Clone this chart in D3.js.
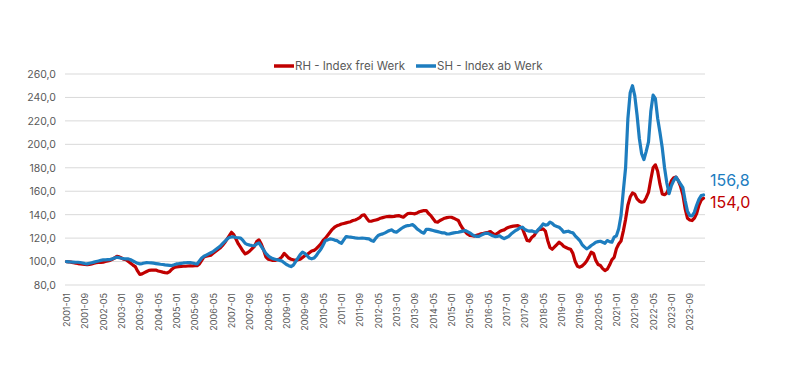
<!DOCTYPE html>
<html><head><meta charset="utf-8">
<script src="https://cdn.jsdelivr.net/npm/d3@7/dist/d3.min.js"></script>
<style>
html,body{margin:0;padding:0;background:#fff;}
svg{display:block;font-family:"Inter","Open Sans",sans-serif;}
</style></head>
<body>
<svg id="chart" width="805" height="386"></svg>
<script>
// Monthly index values, 2001-01 .. 2024-03
const startYear = 2001;
const rhValues = [
  // 2001
  100, 99.8, 99.5, 99, 98.7, 98.3, 98, 97.8, 97.5, 97.3, 97.5, 98,
  // 2002
  98.5, 99, 99.2, 99.3, 99.5, 100, 100.5, 101, 102, 103, 104.5, 104,
  // 2003
  103, 102, 101.5, 100, 98.5, 97, 95.7, 92, 89, 89.5, 90.5, 91.5,
  // 2004
  92.5, 92.7, 92.8, 92.7, 92, 91.5, 91, 90.6, 90.3, 91.5, 93.5, 95,
  // 2005
  95.5, 95.7, 95.8, 96, 96, 96.2, 96.3, 96.2, 96.5, 96.5, 98, 101,
  // 2006
  104, 104.5, 105, 105.5, 107, 108.5, 110, 111.5, 113.5, 116, 119, 122,
  // 2007
  125, 123, 119, 115, 112, 109, 106.5, 107.5, 109, 111, 113, 117,
  // 2008
  118.5, 115, 110, 104, 102, 101.5, 101, 101, 101.5, 102.3, 104, 107,
  // 2009
  105, 103, 102, 101.5, 101.2, 101.5, 102, 103.5, 105, 106, 107.5, 109,
  // 2010
  109.5, 111, 113, 115, 118, 120, 122.5, 125, 127.5, 129.3, 130.5, 131.2,
  // 2011
  132, 132.5, 133, 133.5, 134, 135, 135.5, 136.4, 137.5, 139.5, 139.8, 137,
  // 2012
  134.5, 134.4, 135, 135.5, 136, 137, 137.5, 138, 138.4, 138.5, 138.3, 138.5,
  // 2013
  139, 139.2, 138.5, 137.8, 139.5, 141, 141.2, 141, 140.7, 141.5, 142.5, 143,
  // 2014
  143.5, 143.5, 141, 139.2, 136.5, 134, 133.6, 135, 136, 137, 137.5, 137.8,
  // 2015
  137.8, 137, 136, 135, 131, 127.9, 125.5, 123.5, 122.2, 122, 121.7, 122.5,
  // 2016
  123, 123.6, 124, 124.5, 125, 125.6, 124, 122.8, 124, 125.5, 126.5, 127,
  // 2017
  128.5, 129.3, 129.8, 130.2, 130.5, 130.7, 129.5, 128, 123, 118, 117.5, 120.5,
  // 2018
  122, 125, 127, 127.5, 127.9, 126, 118, 112, 110.5, 112.5, 114.5, 116.5,
  // 2019
  115, 113, 112, 111, 110.5, 107, 100, 96, 95.2, 96.2, 98, 100.5,
  // 2020
  104, 108, 107, 101, 97.5, 96.6, 94, 92.3, 93.5, 97, 101.4, 103.5,
  // 2021
  111, 115, 117.5, 126, 136, 148, 155, 158.5, 157.5, 153.5, 151.5, 150.6,
  // 2022
  151, 154.5, 159, 170, 180, 182.5, 177, 166, 157.7, 157, 158.5, 163,
  // 2023
  169, 171.5, 172, 169, 164, 157, 145, 137, 135.5, 135, 137, 141,
  // 2024
  148, 152.5, 154
];
const shValues = [
  // 2001
  100, 99.8, 99.6, 99.5, 99.4, 99.4, 99.2, 98.8, 98.3, 98, 98.5, 99,
  // 2002
  99.5, 100, 100.5, 101, 101.4, 101.5, 101.6, 101.7, 102.3, 103, 103.7, 103.3,
  // 2003
  102.8, 102.5, 102.3, 102.3, 101.5, 100.5, 99.5, 98.5, 98, 98.3, 98.8, 99.1,
  // 2004
  99, 98.8, 98.6, 98.3, 98, 97.7, 97.5, 97.2, 97, 96.8, 96.6, 97.2,
  // 2005
  98, 98.2, 98.5, 98.8, 99, 99.2, 99.1, 98.8, 98.3, 98, 100.5, 103,
  // 2006
  104.5, 105.5, 106.5, 107.5, 108.5, 110, 111.5, 113, 115, 117, 119, 120.5,
  // 2007
  121, 121, 120.5, 120.3, 120, 118, 115.5, 114.5, 114, 113.7, 113.5, 115,
  // 2008
  116, 113, 110, 107, 105, 103.5, 102.5, 102, 101.5, 101, 100.5, 99,
  // 2009
  97.5, 96.5, 95.7, 97, 100, 103, 106, 108, 107, 105, 103, 102.3,
  // 2010
  103, 105, 108, 110.5, 114, 117.9, 118.5, 119.3, 119, 118.3, 117.9, 116.5,
  // 2011
  115.6, 118.5, 121.3, 121, 120.8, 120.5, 120.2, 120, 119.9, 120, 119.9, 119.6,
  // 2012
  119.3, 118, 117.3, 120, 122.2, 123, 123.6, 124.5, 125.6, 126.5, 127, 125.5,
  // 2013
  125, 126.5, 128, 129.3, 130.2, 130.7, 131, 131.5, 130, 127.9, 126.5, 125,
  // 2014
  124.2, 127.5, 127.5, 127, 126.5, 126, 125.5, 125, 124.5, 124.5, 123.5, 123.5,
  // 2015
  124, 124.5, 124.8, 125, 125.5, 126, 126.5, 125.5, 124.5, 123, 122, 121.5,
  // 2016
  121.5, 122.5, 123.5, 124.2, 124, 123, 122, 121.3, 121.5, 122, 120.5, 119.5,
  // 2017
  120.5, 121.5, 123.5, 125, 126.5, 127.5, 129, 129.3, 127.5, 126.5, 125.9, 126.2,
  // 2018
  125.5, 125, 127.5, 129.5, 132.1, 131, 131.5, 133.6, 132.5, 130.7, 130, 129.3,
  // 2019
  127.5, 125, 125.5, 125.9, 125, 124.5, 122, 120, 117.9, 114.5, 112.5, 110.8,
  // 2020
  112, 113.7, 115, 116.5, 117, 117.3, 116.5, 115.6, 117.9, 117, 116.5, 120.8,
  // 2021
  122, 128, 139, 160, 180, 222, 244, 250, 241.6, 225, 205, 192,
  // 2022
  187, 194, 202, 228, 242, 239, 222, 210, 197, 180, 167, 158,
  // 2023
  164.8, 169, 172, 169, 166, 163, 152, 143, 139.2, 139, 142, 148,
  // 2024
  153, 156.3, 156.8
];
const seriesNames = ["RH - Index frei Werk", "SH - Index ab Werk"];
const seriesColors = ["#C00000", "#1D7DBF"];
const endLabels = ["154,0", "156,8"];
const yTicks = [80, 100, 120, 140, 160, 180, 200, 220, 240, 260];

const months = rhValues.map((d, i) => {
  const y = startYear + Math.floor(i / 12);
  const m = (i % 12) + 1;
  return y + "-" + String(m).padStart(2, "0");
});
const tickMonths = months.filter((d, i) => i % 8 === 0);

const svg = d3.select("#chart");
const x = d3.scalePoint().domain(months).range([66.5, 703.5]);
const y = d3.scaleLinear().domain([80, 260]).range([285, 74]);
const fmt = v => d3.format(".1f")(v).replace(".", ",");

// gridlines
svg.append("g").selectAll("line").data(yTicks).join("line")
  .attr("x1", 65).attr("x2", 705)
  .attr("y1", d => y(d)).attr("y2", d => y(d))
  .attr("stroke", "#d9d9d9").attr("stroke-width", 1);

// y axis
const yAxis = svg.append("g").attr("transform", "translate(56,0)")
  .call(d3.axisLeft(y).tickValues(yTicks).tickSize(0).tickPadding(0).tickFormat(fmt));
yAxis.select(".domain").remove();
yAxis.selectAll("text").attr("fill", "#595959").attr("font-size", "10.5px")
  .attr("font-family", "Inter, sans-serif");

// x axis
const xAxis = svg.append("g").attr("transform", "translate(0,290)")
  .call(d3.axisBottom(x).tickValues(tickMonths).tickSize(0).tickPadding(0));
xAxis.select(".domain").remove();
xAxis.selectAll("text")
  .attr("fill", "#595959").attr("font-size", "9px").attr("font-family", "Inter, sans-serif")
  .attr("transform", "rotate(-90)")
  .attr("text-anchor", "end").attr("x", -3).attr("y", 0).attr("dy", "0.35em");

// lines
const line = d3.line().x((d, i) => x(months[i])).y(d => y(d)).curve(d3.curveLinear);
[rhValues, shValues].forEach((vals, k) => {
  svg.append("path").datum(vals)
    .attr("fill", "none").attr("stroke", seriesColors[k])
    .attr("stroke-width", 3.2).attr("stroke-linejoin", "round").attr("stroke-linecap", "round")
    .attr("d", line);
});
// end labels
svg.append("text").attr("x", 710).attr("y", y(shValues[shValues.length - 1]) - 8.5)
  .attr("fill", seriesColors[1]).attr("font-size", "16px").text(endLabels[1]);
svg.append("text").attr("x", 710).attr("y", y(rhValues[rhValues.length - 1]) + 9.5)
  .attr("fill", seriesColors[0]).attr("font-size", "16px").text(endLabels[0]);

// legend
const legend = svg.append("g").attr("transform", "translate(274,66)");
const lx = [0, 142];
seriesNames.forEach((n, k) => {
  const g = legend.append("g").attr("transform", `translate(${lx[k]},0)`);
  g.append("line").attr("x1", 0).attr("x2", 20).attr("y1", 0).attr("y2", 0)
    .attr("stroke", seriesColors[k]).attr("stroke-width", 3.5);
  g.append("text").attr("x", 21).attr("y", 0).attr("dy", "0.35em")
    .attr("fill", "#595959").attr("font-size", "11.5px").text(n);
});
</script>
</body></html>
